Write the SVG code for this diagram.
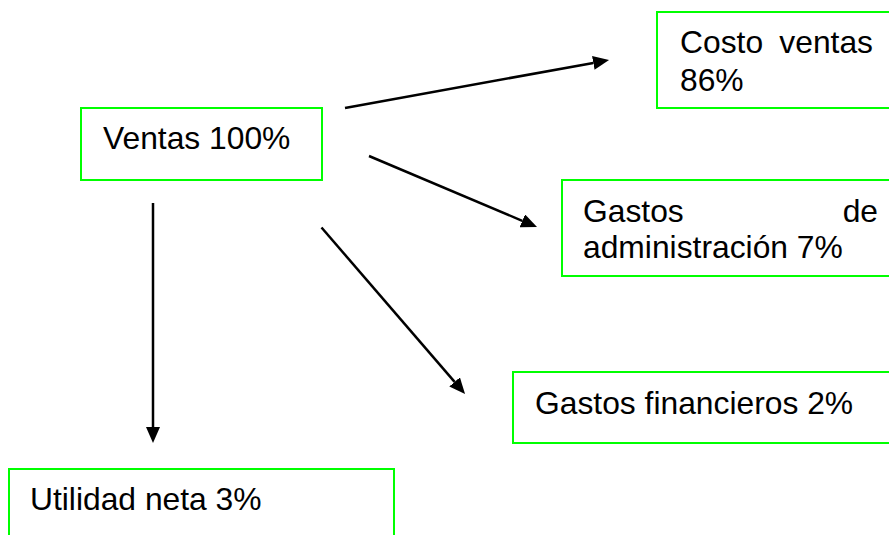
<svg xmlns="http://www.w3.org/2000/svg" width="889" height="535" viewBox="0 0 889 535">
<style>
.box{fill:#ffffff;stroke:#00ff00;stroke-width:2}
.t{font-family:"Liberation Sans",Arial,sans-serif;font-size:31.8px;fill:#000000}
.c{stroke:#000000;stroke-width:2.5;fill:none}
</style>
<defs>
<marker id="ah" markerUnits="userSpaceOnUse" markerWidth="17" markerHeight="14" refX="0" refY="7" orient="auto">
<path d="M0,0 L16,7 L0,14 z" fill="#000000"/>
</marker>
</defs>
<rect width="889" height="535" fill="#ffffff"/>
<g id="connectors">
<line class="c" x1="345" y1="108" x2="593.3" y2="62.9" marker-end="url(#ah)"/>
<line class="c" x1="369" y1="156" x2="522.3" y2="220.8" marker-end="url(#ah)"/>
<line class="c" x1="321.5" y1="227.5" x2="454.6" y2="381.9" marker-end="url(#ah)"/>
<line class="c" x1="153" y1="203" x2="153" y2="427" marker-end="url(#ah)"/>
</g>
<g id="ventas">
<rect class="box" x="81" y="108" width="241" height="72"/>
<text class="t" x="103" y="149">Ventas 100%</text>
</g>
<g id="costo">
<rect class="box" x="657" y="12" width="260" height="96"/>
<text class="t" x="680" y="53">Costo</text>
<text class="t" x="873" y="53" text-anchor="end">ventas</text>
<text class="t" x="680" y="91">86%</text>
</g>
<g id="gastos-adm">
<rect class="box" x="562" y="180" width="400" height="96"/>
<text class="t" x="583" y="222">Gastos</text>
<text class="t" x="878" y="222" text-anchor="end">de</text>
<text class="t" x="583" y="258">administración 7%</text>
</g>
<g id="gastos-fin">
<rect class="box" x="513" y="372" width="400" height="71"/>
<text class="t" x="535" y="414">Gastos financieros 2%</text>
</g>
<g id="utilidad">
<rect class="box" x="9" y="469" width="385" height="100"/>
<text class="t" x="30" y="510">Utilidad neta 3%</text>
</g>
</svg>
